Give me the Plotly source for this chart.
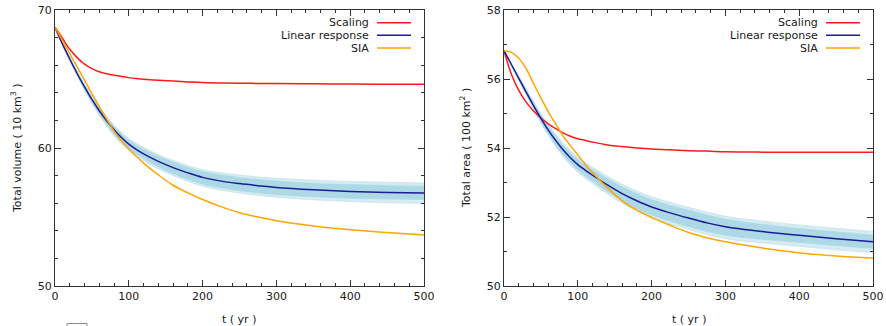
import plotly.graph_objects as go

# ---------------- data ----------------
t_main = [0, 10, 20, 30, 40, 50, 60, 70, 80, 90, 100, 110, 120, 140, 160, 180,
          200, 225, 250, 275, 300, 350, 400, 450, 500]

vol_scaling = [68.75, 67.95, 67.15, 66.55, 66.08, 65.75, 65.52, 65.38, 65.28, 65.18, 65.1,
               65.04, 64.99, 64.91, 64.85, 64.79, 64.74, 64.71, 64.69, 64.68, 64.67,
               64.66, 64.63, 64.62, 64.62]
vol_linear = [68.75, 67.55, 66.45, 65.4, 64.43, 63.52, 62.7, 61.97, 61.32, 60.76, 60.28,
              59.9, 59.57, 59.03, 58.58, 58.2, 57.87, 57.6, 57.42, 57.27, 57.14,
              56.97, 56.85, 56.78, 56.74]
vol_sia = [68.75, 67.8, 66.82, 65.87, 64.92, 63.95, 63.0, 62.1, 61.22, 60.52, 59.93,
           59.4, 58.9, 58.05, 57.3, 56.75, 56.27, 55.75, 55.31, 55.0, 54.73,
           54.35, 54.07, 53.87, 53.7]

area_scaling = [56.82, 56.14, 55.67, 55.33, 55.07, 54.87, 54.7, 54.56, 54.44, 54.34, 54.27,
                54.22, 54.17, 54.09, 54.04, 54.0, 53.97, 53.95, 53.92, 53.91, 53.89,
                53.88, 53.88, 53.88, 53.88]
area_linear = [56.82, 56.42, 56.02, 55.62, 55.23, 54.86, 54.52, 54.22, 53.95, 53.72, 53.52,
               53.36, 53.21, 52.93, 52.68, 52.47, 52.29, 52.12, 51.97, 51.83, 51.72,
               51.58, 51.47, 51.37, 51.28]
area_sia = [56.82, 56.77, 56.6, 56.3, 55.87, 55.45, 55.05, 54.7, 54.35, 54.07, 53.8,
            53.53, 53.28, 52.85, 52.47, 52.2, 51.99, 51.76, 51.55, 51.4, 51.28,
            51.1, 50.96, 50.87, 50.81]

# ensemble (light blue) envelopes
t_band = [0, 10, 20, 35, 50, 65, 80, 100, 125, 150, 175, 200, 250, 300, 350, 400, 450, 500]

vol_core_hi = [68.75, 67.60, 66.54, 65.06, 63.70, 62.56, 61.57, 60.58, 59.80, 59.18, 58.70,
               58.29, 57.87, 57.61, 57.45, 57.35, 57.28, 57.24]
vol_core_lo = [68.75, 67.50, 66.35, 64.76, 63.30, 62.06, 60.98, 59.92, 59.06, 58.36, 57.83,
               57.37, 56.90, 56.62, 56.47, 56.35, 56.30, 56.27]
vol_out_hi = [68.75, 67.61, 66.56, 65.10, 63.77, 62.64, 61.66, 60.68, 59.91, 59.30, 58.83,
              58.43, 58.04, 57.80, 57.67, 57.57, 57.51, 57.47]
vol_out_lo = [68.75, 67.48, 66.32, 64.70, 63.22, 61.97, 60.88, 59.81, 58.93, 58.22, 57.69,
              57.23, 56.74, 56.44, 56.25, 56.12, 56.04, 56.00]

area_core_hi = [56.82, 56.44, 56.06, 55.50, 54.96, 54.49, 54.09, 53.67, 53.31, 52.99, 52.73,
                52.51, 52.20, 51.94, 51.79, 51.67, 51.57, 51.48]
area_core_lo = [56.82, 56.40, 55.98, 55.36, 54.76, 54.24, 53.80, 53.36, 52.96, 52.60, 52.30,
                52.06, 51.72, 51.47, 51.35, 51.26, 51.17, 51.09]
area_out_hi = [56.82, 56.45, 56.08, 55.53, 55.00, 54.54, 54.14, 53.73, 53.38, 53.06, 52.80,
               52.59, 52.28, 52.02, 51.88, 51.77, 51.67, 51.58]
area_out_lo = [56.82, 56.39, 55.96, 55.33, 54.72, 54.20, 53.75, 53.30, 52.89, 52.53, 52.23,
               51.98, 51.64, 51.37, 51.25, 51.15, 51.05, 50.97]

series_names = ["Scaling", "Linear response", "SIA"]
series_colors = ["#ff1a1a", "#1c1c94", "#ffa500"]

x_ticks = [0, 100, 200, 300, 400, 500]
vol_ticks = [50, 60, 70]
area_ticks = [50, 52, 54, 56, 58]

W, H = 886, 326
FONT = "DejaVu Sans"
TXT = "#1a1a1a"
ENS = "#add8e6"


def px(x):
    return x / W


def py(y):
    return (H - y) / H


fig = go.Figure()


def add_panel(xa, ya, core_hi, core_lo, out_hi, out_lo, scaling, linear, sia):
    fig.add_trace(go.Scatter(x=t_band, y=out_hi, xaxis=xa, yaxis=ya, mode="lines",
                             line=dict(color="#c4e3ec", width=0.8, shape="spline"),
                             hoverinfo="skip", showlegend=False))
    fig.add_trace(go.Scatter(x=t_band, y=out_lo, xaxis=xa, yaxis=ya, mode="lines",
                             line=dict(color="#c4e3ec", width=0.8, shape="spline"),
                             fill="tonexty", fillcolor="rgba(173,216,230,0.5)",
                             hoverinfo="skip", showlegend=False))
    fig.add_trace(go.Scatter(x=t_band, y=core_hi, xaxis=xa, yaxis=ya, mode="lines",
                             line=dict(color=ENS, width=0.5, shape="spline"),
                             hoverinfo="skip", showlegend=False))
    fig.add_trace(go.Scatter(x=t_band, y=core_lo, xaxis=xa, yaxis=ya, mode="lines",
                             line=dict(color=ENS, width=0.5, shape="spline"),
                             fill="tonexty", fillcolor=ENS,
                             hoverinfo="skip", showlegend=False))
    for name, col, ys in zip(series_names, series_colors, [scaling, linear, sia]):
        fig.add_trace(go.Scatter(x=t_main, y=ys, xaxis=xa, yaxis=ya, mode="lines",
                                 name=name, line=dict(color=col, width=1.5, shape="spline"),
                                 showlegend=False))


add_panel("x", "y", vol_core_hi, vol_core_lo, vol_out_hi, vol_out_lo,
          vol_scaling, vol_linear, vol_sia)
add_panel("x2", "y2", area_core_hi, area_core_lo, area_out_hi, area_out_lo,
          area_scaling, area_linear, area_sia)

axis_base = dict(showline=True, linecolor="#333333", linewidth=1, mirror="ticks",
                 ticks="inside", ticklen=6, tickcolor="#333333", tickwidth=1,
                 showgrid=False, zeroline=False, automargin=False,
                 tickfont=dict(family=FONT, size=11, color=TXT))

ydom = [py(286), py(10)]
fig.update_layout(
    width=W, height=H, margin=dict(l=0, r=0, t=0, b=0, autoexpand=False),
    paper_bgcolor="white", plot_bgcolor="white", showlegend=False,
    font=dict(family=FONT, size=11, color=TXT),
    xaxis=dict(axis_base, domain=[px(55), px(424)], range=[0, 500], tickvals=x_ticks,
               minor=dict(dtick=20, tick0=0, ticks="inside", ticklen=3, tickcolor="#333333"),
               anchor="y"),
    yaxis=dict(axis_base, domain=ydom, range=[50, 70], tickvals=vol_ticks,
               minor=dict(dtick=2, tick0=50, ticks="inside", ticklen=3, tickcolor="#333333"),
               anchor="x"),
    xaxis2=dict(axis_base, domain=[px(504), px(873)], range=[0, 500], tickvals=x_ticks,
                minor=dict(dtick=20, tick0=0, ticks="inside", ticklen=3, tickcolor="#333333"),
                anchor="y2"),
    yaxis2=dict(axis_base, domain=ydom, range=[50, 58], tickvals=area_ticks,
                minor=dict(dtick=1, tick0=50, ticks="inside", ticklen=3, tickcolor="#333333"),
                anchor="x2"),
)

# axis titles
ann = [
    dict(text="Total volume ( 10 km<sup>3</sup> )", x=px(16), y=py(148), textangle=-90),
    dict(text="Total area ( 100 km<sup>2</sup> )", x=px(465), y=py(148), textangle=-90),
    dict(text="t ( yr )", x=px(239.5), y=py(319)),
    dict(text="t ( yr )", x=px(688.5), y=py(319)),
]
for a in ann:
    fig.add_annotation(xref="paper", yref="paper", showarrow=False,
                       xanchor="center", yanchor="middle",
                       font=dict(family=FONT, size=11, color=TXT), **a)

# legends (text right-aligned, sample line to the right, as in the reference)
row_y = [22.7, 35.3, 48.0]
for text_end, l0, l1 in [(371, 377, 411), (820, 826, 860)]:
    for name, col, ry in zip(series_names, series_colors, row_y):
        fig.add_annotation(xref="paper", yref="paper", x=px(text_end), y=py(ry),
                           text=name, showarrow=False, xanchor="right", yanchor="middle",
                           font=dict(family=FONT, size=11, color=TXT))
        fig.add_shape(type="line", xref="paper", yref="paper",
                      x0=px(l0), x1=px(l1), y0=py(ry), y1=py(ry),
                      line=dict(color=col, width=1.5))

# small cut-off box at the bottom-left edge
fig.add_shape(type="rect", xref="paper", yref="paper",
              x0=px(67), x1=px(87), y0=py(327), y1=py(323.5),
              line=dict(color="#8a8a8a", width=1), fillcolor="white")

# remove the default 8px page margin so the figure fills the window exactly
fig.write_html("out.html",
               config={"displayModeBar": False},
               post_script="document.body.style.margin='0';"
                           "document.body.style.overflow='hidden';")
